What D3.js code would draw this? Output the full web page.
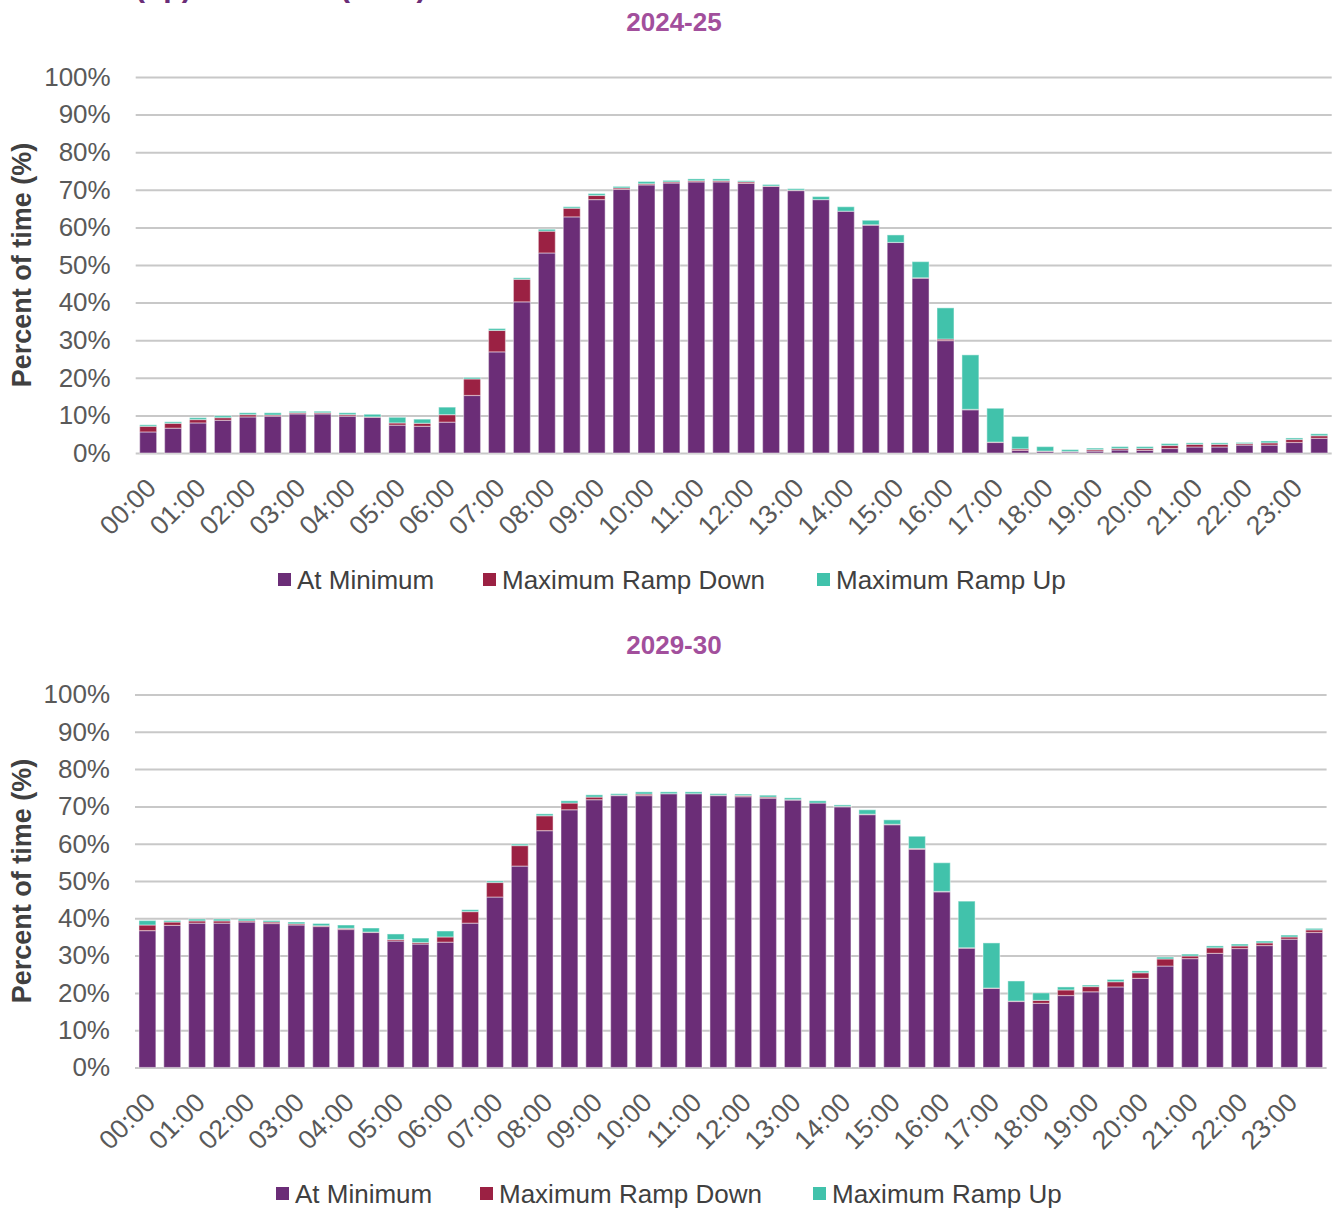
<!DOCTYPE html>
<html>
<head>
<meta charset="utf-8">
<script src="https://cdn.jsdelivr.net/npm/d3@7/dist/d3.min.js"></script>
<style>
  html, body { margin: 0; padding: 0; background: #fff; }
  svg { display: block; font-family: "Liberation Sans", Arial, sans-serif; }
</style>
</head>
<body>
<svg id="chart" width="1338" height="1209"></svg>
<script>
// Half-hourly trading intervals
const slots = [
  "00:00","00:30","01:00","01:30","02:00","02:30","03:00","03:30",
  "04:00","04:30","05:00","05:30","06:00","06:30","07:00","07:30",
  "08:00","08:30","09:00","09:30","10:00","10:30","11:00","11:30",
  "12:00","12:30","13:00","13:30","14:00","14:30","15:00","15:30",
  "16:00","16:30","17:00","17:30","18:00","18:30","19:00","19:30",
  "20:00","20:30","21:00","21:30","22:00","22:30","23:00","23:30"
];
// Hourly tick labels shown on the axis
const hourTicks = [
  "00:00","01:00","02:00","03:00","04:00","05:00","06:00","07:00",
  "08:00","09:00","10:00","11:00","12:00","13:00","14:00","15:00",
  "16:00","17:00","18:00","19:00","20:00","21:00","22:00","23:00"
];
const yTicks = [0, 10, 20, 30, 40, 50, 60, 70, 80, 90, 100];

const seriesNames = ["At Minimum", "Maximum Ramp Down", "Maximum Ramp Up"];

// 2024-25, percent of time
const atMin2425 = [5.6,6.6,8.0,8.7,9.6,9.8,10.4,10.4,9.8,9.5,7.4,7.1,8.2,15.3,26.9,40.2,53.2,62.8,67.4,70.1,71.3,71.8,72.1,72.1,71.7,70.9,69.8,67.4,64.3,60.6,56.0,46.5,29.9,11.5,2.8,0.7,0.4,0.3,0.5,0.8,0.7,1.2,1.6,1.6,2.1,2.1,2.8,3.9];
const rampDown2425 = [1.5,1.3,0.9,0.7,0.6,0.3,0.3,0.3,0.4,0.1,0.6,0.8,2.0,4.4,5.7,6.0,5.8,2.3,1.1,0.4,0.3,0.3,0.3,0.3,0.4,0.1,0.1,0.0,0.0,0.1,0.0,0.1,0.4,0.1,0.1,0.4,0.1,0.1,0.4,0.4,0.5,0.8,0.7,0.7,0.4,0.6,0.8,0.7];
const rampUp2425 = [0.4,0.4,0.5,0.5,0.5,0.6,0.4,0.4,0.5,0.7,1.5,1.1,2.0,0.4,0.5,0.4,0.5,0.4,0.5,0.4,0.6,0.4,0.5,0.5,0.3,0.4,0.4,0.8,1.2,1.2,2.0,4.3,8.3,14.5,9.0,3.3,1.2,0.5,0.4,0.5,0.5,0.5,0.4,0.4,0.3,0.5,0.4,0.5];

// 2029-30, percent of time
const atMin2930 = [36.7,38.1,38.7,38.7,39.0,38.6,38.2,37.8,37.0,36.2,33.9,33.1,33.6,38.7,45.7,54.0,63.5,69.1,71.8,72.9,72.9,73.4,73.4,72.9,72.6,72.2,71.7,70.9,69.9,67.8,65.1,58.5,47.1,32.0,21.2,17.7,17.2,19.3,20.3,21.6,23.9,27.2,29.2,30.6,31.9,32.7,34.4,36.2];
const rampDown2930 = [1.5,0.9,0.6,0.6,0.3,0.4,0.3,0.2,0.3,0.1,0.4,0.4,1.4,3.1,3.9,5.5,4.0,1.8,0.7,0.1,0.4,0.0,0.0,0.1,0.3,0.3,0.1,0.0,0.1,0.1,0.1,0.2,0.1,0.1,0.1,0.1,0.8,1.5,1.4,1.4,1.5,1.9,0.7,1.5,0.7,0.7,0.6,0.7];
const rampUp2930 = [1.2,0.4,0.5,0.5,0.5,0.4,0.5,0.6,0.9,1.1,1.5,1.2,1.6,0.5,0.4,0.4,0.5,0.6,0.6,0.4,0.6,0.5,0.5,0.4,0.4,0.5,0.5,0.6,0.4,1.2,1.2,3.3,7.7,12.5,12.1,5.4,2.0,0.8,0.4,0.6,0.5,0.5,0.5,0.5,0.5,0.5,0.5,0.4];

const colors = ["#6b2d77", "#9b2143", "#41c2ab"];
const titleColor = "#a24f9c";
const gridColor = "#c8c8c8";
const tickColor = "#595959";
const textColor = "#404040";

const svg = d3.select("#chart");
svg.append("rect").attr("width", 1338).attr("height", 1209).attr("fill", "#fff");

// Heading above the panels (runs off the top edge)
svg.append("text")
  .attr("x", 135).attr("y", -3)
  .attr("font-size", 30).attr("font-weight", "bold")
  .attr("fill", "#6b2d77")
  .text("(up) Minimum (NEM)");

function drawPanel(opts) {
  const { title, titleY, x0, x1, yBottom, yTop, atMin, rampDown, rampUp, legendY, legendX } = opts;

  const rows = slots.map((s, i) => ({
    slot: s,
    "At Minimum": atMin[i],
    "Maximum Ramp Down": rampDown[i],
    "Maximum Ramp Up": rampUp[i]
  }));

  const x = d3.scaleBand().domain(slots).range([x0, x1]).paddingInner(0.32).paddingOuter(0.16);
  const y = d3.scaleLinear().domain([0, 100]).range([yBottom, yTop]);

  const g = svg.append("g");

  // panel title
  g.append("text")
    .attr("x", 674).attr("y", titleY)
    .attr("text-anchor", "middle")
    .attr("font-size", 26).attr("font-weight", "bold")
    .attr("fill", titleColor)
    .text(title);

  // y axis with gridlines
  const yAxis = g.append("g")
    .attr("transform", `translate(${x0},0)`)
    .call(d3.axisLeft(y).tickValues(yTicks).tickFormat(d => d + "%")
      .tickSize(-(x1 - x0)).tickPadding(25));
  yAxis.select(".domain").remove();
  yAxis.selectAll(".tick line").attr("stroke", gridColor).attr("stroke-width", 2);
  yAxis.selectAll(".tick text")
    .attr("font-size", 26).attr("fill", tickColor)
    .attr("font-family", "Liberation Sans, Arial, sans-serif");

  // y axis title
  g.append("text")
    .attr("transform", `translate(31,${(yBottom + yTop) / 2}) rotate(-90)`)
    .attr("text-anchor", "middle")
    .attr("font-size", 27).attr("font-weight", "bold")
    .attr("fill", textColor)
    .text("Percent of time (%)");

  // stacked bars
  const stack = d3.stack().keys(seriesNames)(rows);
  g.append("g").selectAll("g")
    .data(stack).join("g")
    .attr("fill", (d, i) => colors[i])
    .selectAll("rect")
    .data(d => d).join("rect")
    .attr("x", d => x(d.data.slot))
    .attr("width", x.bandwidth())
    .attr("y", d => y(d[1]))
    .attr("height", d => Math.max(0, y(d[0]) - y(d[1])))
    .attr("stroke", "#ffffff").attr("stroke-opacity", 0.4).attr("stroke-width", 1.2);

  // x axis labels (hourly)
  const xAxis = g.append("g")
    .attr("transform", `translate(0,${yBottom})`)
    .call(d3.axisBottom(x).tickValues(hourTicks).tickSize(0));
  xAxis.select(".domain").remove();
  xAxis.selectAll(".tick text")
    .attr("font-size", 26.5).attr("fill", tickColor)
    .attr("font-family", "Liberation Sans, Arial, sans-serif")
    .attr("text-anchor", "end")
    .attr("x", 0).attr("y", 0).attr("dy", "0.35em")
    .attr("transform", "translate(3,30) rotate(-45)");

  // legend
  const lg = g.append("g");
  seriesNames.forEach((name, i) => {
    lg.append("rect")
      .attr("x", legendX[i]).attr("y", legendY - 7)
      .attr("width", 13).attr("height", 13)
      .attr("fill", colors[i]);
    lg.append("text")
      .attr("x", legendX[i] + 19).attr("y", legendY)
      .attr("dy", "0.35em")
      .attr("font-size", 26).attr("fill", textColor)
      .text(name);
  });
}

drawPanel({
  title: "2024-25", titleY: 31,
  x0: 135.7, x1: 1331.7, yBottom: 453, yTop: 77,
  atMin: atMin2425, rampDown: rampDown2425, rampUp: rampUp2425,
  legendY: 580, legendX: [278, 483, 817]
});

drawPanel({
  title: "2029-30", titleY: 654,
  x0: 135, x1: 1326.6, yBottom: 1067.5, yTop: 694.5,
  atMin: atMin2930, rampDown: rampDown2930, rampUp: rampUp2930,
  legendY: 1194, legendX: [276, 480, 813]
});
</script>
</body>
</html>
